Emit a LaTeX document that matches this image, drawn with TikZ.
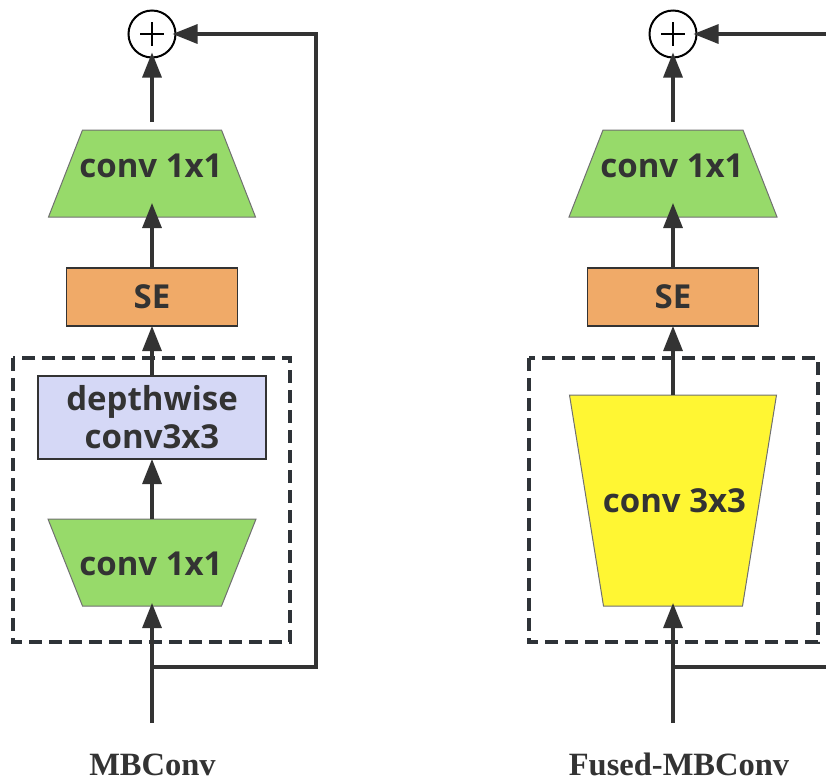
\documentclass[tikz,border=0pt]{standalone}
\usepackage{fontspec}
\setmainfont{Liberation Serif}
\newfontfamily\boxfont{Open Sans}
\usetikzlibrary{arrows.meta}
\pgfdeclarelayer{bg}
\pgfsetlayers{bg,main}
\definecolor{ink}{HTML}{333333}
\definecolor{grn}{HTML}{97DA6A}
\definecolor{org}{HTML}{F0AA68}
\definecolor{lav}{HTML}{D5D8F6}
\definecolor{ylw}{HTML}{FFF633}
\definecolor{dsh}{HTML}{2E3338}
\definecolor{edge}{HTML}{707070}
\tikzset{
  frame/.style={rectangle, inner sep=0pt, outer sep=0pt},
  solidbox/.style={rectangle, draw=ink, line width=1.6pt, inner sep=0pt, outer sep=0pt},
  txt/.style={inner sep=0pt, outer sep=0pt, text=ink, font=\boxfont\bfseries\fontsize{33}{38}\selectfont},
  captxt/.style={inner sep=0pt, outer sep=0pt, text=ink, font=\bfseries\fontsize{32.5}{38}\selectfont},
  sum/.style={circle, draw=black, line width=2pt, minimum size=47pt, inner sep=0pt, outer sep=0pt, fill=white},
  conn/.style={draw=ink, line width=3.2pt},
  arr/.style={conn, -{Triangle[length=25pt,width=19pt]}, color=ink},
  dbox/.style={draw=dsh, line width=3.2pt, dash pattern=on 13pt off 7pt},
  trap/.style={line width=1pt, draw=edge}
}
\begin{document}
\begin{tikzpicture}[x=1pt,y=-1pt]
\useasboundingbox (0,0) rectangle (826,780);
% ---------------- MBConv ----------------
\node[sum] (c1) at (152,34) {};
\draw[line width=1.5pt] (c1.center) ++(-12,0) -- ++(24,0);
\draw[line width=1.5pt] (c1.center) ++(0,-12) -- ++(0,24);
\node[frame, minimum width=207pt, minimum height=87pt] (T1) at (152,173.5) {};
\node[txt, anchor=base] (T1t) at (151,177) {conv 1x1};
\node[solidbox, fill=org, minimum width=171pt, minimum height=58pt] (S1) at (152,297) {};
\node[txt, anchor=base] (S1t) at (152,308) {SE};
\node[solidbox, fill=lav, minimum width=228pt, minimum height=83pt] (D1) at (152,417.5) {};
\node[txt, anchor=base] (D1a) at (152,410) {depthwise};
\node[txt, anchor=base] (D1b) at (152,448) {conv3x3};
\node[frame, minimum width=208pt, minimum height=87pt] (B1) at (152,562.5) {};
\node[txt, anchor=base] (B1t) at (151,575) {conv 1x1};
\node[frame, minimum width=277pt, minimum height=284pt] (G1) at (151.5,500) {};
\node[captxt, anchor=base] (L1) at (152.5,775) {MBConv};
\coordinate (in1) at (152,723);
\coordinate (br1) at (152,667);
\coordinate (sk1) at (316,34);
\begin{pgfonlayer}{bg}
\fill[grn] (T1.south west) -- (T1.south east) -- ([xshift=-34pt]T1.north east) -- ([xshift=34pt]T1.north west) -- cycle;
\draw[trap] (T1.south west) -- (T1.south east) -- ([xshift=-34pt]T1.north east) -- ([xshift=34pt]T1.north west) -- cycle;
\fill[grn] (B1.north west) -- (B1.north east) -- ([xshift=-34.5pt]B1.south east) -- ([xshift=34.5pt]B1.south west) -- cycle;
\draw[trap] (B1.north west) -- (B1.north east) -- ([xshift=-34.5pt]B1.south east) -- ([xshift=34.5pt]B1.south west) -- cycle;
\draw[dbox] (G1.north west) rectangle (G1.south east);
\end{pgfonlayer}
\draw[arr, shorten <=8pt, shorten >=-5pt] (T1.north) -- (c1.south);
\draw[arr, shorten >=-14pt] (S1.north) -- (T1.south);
\draw[arr] (D1.north) -- (S1.south);
\draw[arr] (B1.north) -- (D1.south);
\draw[arr, shorten >=-3pt] (in1) -- (B1.south);
\draw[arr, shorten >=-3pt] (br1) -| (sk1) -- (c1.east);
% ---------------- Fused-MBConv ----------------
\node[sum] (c2) at (673,34) {};
\draw[line width=1.5pt] (c2.center) ++(-12,0) -- ++(24,0);
\draw[line width=1.5pt] (c2.center) ++(0,-12) -- ++(0,24);
\node[frame, minimum width=208pt, minimum height=87pt] (T2) at (673,173.5) {};
\node[txt, anchor=base] (T2t) at (672,177) {conv 1x1};
\node[solidbox, fill=org, minimum width=171pt, minimum height=58pt] (S2) at (673,297) {};
\node[txt, anchor=base] (S2t) at (673,308) {SE};
\node[frame, minimum width=207pt, minimum height=211pt] (Y2) at (673,500.5) {};
\node[txt, anchor=base] (Y2t) at (674.5,512.5) {conv 3x3};
\node[frame, minimum width=289pt, minimum height=284pt] (G2) at (673.5,500) {};
\node[captxt, anchor=base] (L2) at (679,775) {Fused-MBConv};
\coordinate (in2) at (673,723);
\coordinate (br2) at (673,667);
\coordinate (out2) at (830,667);
\coordinate (sk2) at (830,34);
\begin{pgfonlayer}{bg}
\fill[grn] (T2.south west) -- (T2.south east) -- ([xshift=-34pt]T2.north east) -- ([xshift=34pt]T2.north west) -- cycle;
\draw[trap] (T2.south west) -- (T2.south east) -- ([xshift=-34pt]T2.north east) -- ([xshift=34pt]T2.north west) -- cycle;
\fill[ylw] (Y2.north west) -- (Y2.north east) -- ([xshift=-34pt]Y2.south east) -- ([xshift=34pt]Y2.south west) -- cycle;
\draw[trap] (Y2.north west) -- (Y2.north east) -- ([xshift=-34pt]Y2.south east) -- ([xshift=34pt]Y2.south west) -- cycle;
\draw[dbox] (G2.north west) rectangle (G2.south east);
\end{pgfonlayer}
\draw[arr, shorten <=8pt, shorten >=-5pt] (T2.north) -- (c2.south);
\draw[arr, shorten >=-14pt] (S2.north) -- (T2.south);
\draw[arr] (Y2.north) -- (S2.south);
\draw[arr, shorten >=-3pt] (in2) -- (Y2.south);
\draw[conn] (br2) -- (out2);
\draw[arr, shorten >=-3pt] (sk2) -- (c2.east);
\end{tikzpicture}
\end{document}
